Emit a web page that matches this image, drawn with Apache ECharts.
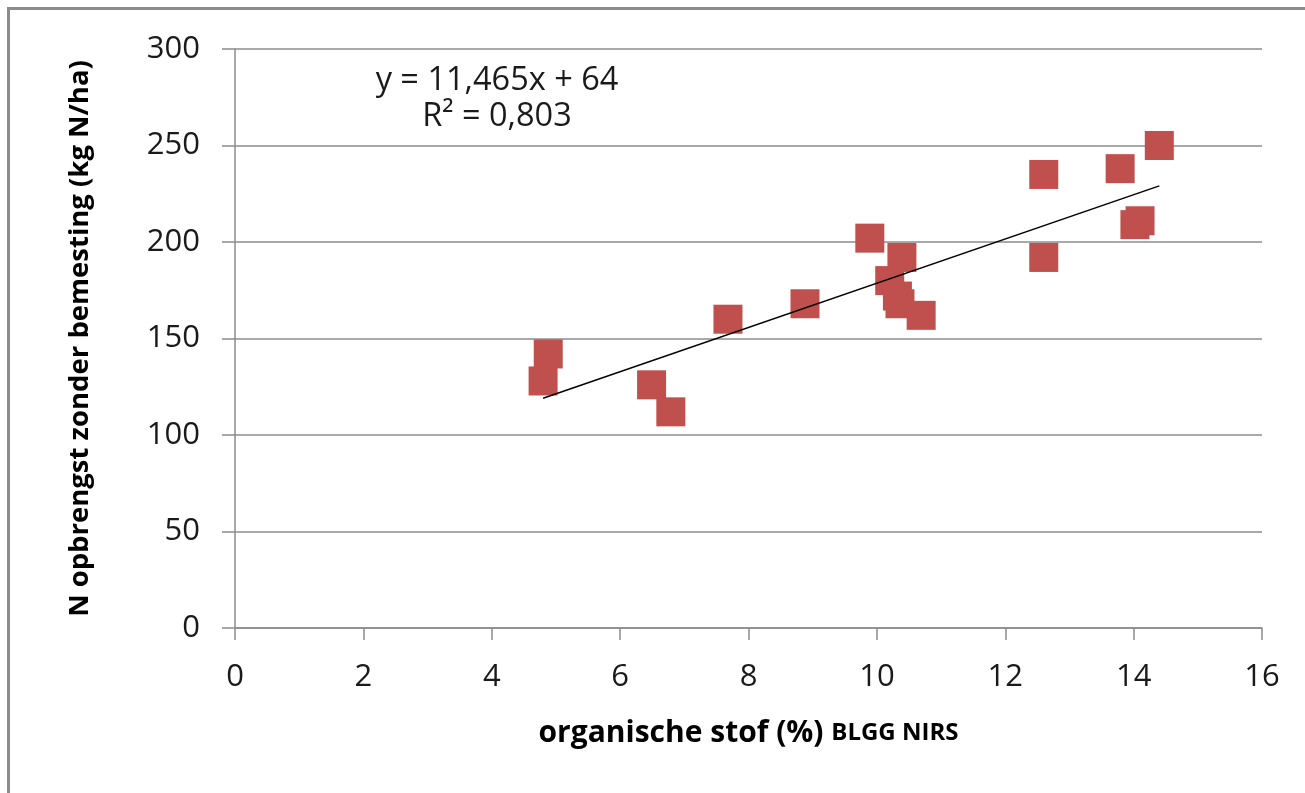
<!DOCTYPE html>
<html>
<head>
<meta charset="utf-8">
<script src="https://cdn.jsdelivr.net/npm/echarts@6/dist/echarts.min.js"></script>
<style>
html,body{margin:0;padding:0;background:#fff;}
#chart{width:1305px;height:793px;}
</style>
</head>
<body>
<div id="chart"></div>
<script>
// Data
const orgStof = [4.80, 4.88, 6.49, 6.79, 7.68, 8.88, 9.89, 10.20, 10.32, 10.36, 10.39, 10.69, 12.60, 12.60, 13.79, 14.02, 14.10, 14.40];
const nOpbrengst = [128, 142, 126, 112, 160, 168, 202, 180, 172, 168, 192, 162, 235, 192, 238, 209, 211, 250];
const trendX = [4.8, 14.4];
const trendY = [119.0, 229.1];
const xTicks = [0, 2, 4, 6, 8, 10, 12, 14, 16];
const yTicks = [0, 50, 100, 150, 200, 250, 300];
const equationText = 'y = 11,465x + 64';
const r2Text = 'R² = 0,803';

const FONT = '"Open Sans", "Liberation Sans", sans-serif';
const chart = echarts.init(document.getElementById('chart'), null, {renderer: 'canvas'});

const option = {
  backgroundColor: '#fff',
  animation: false,
  grid: {left: 235, right: 43, top: 49, bottom: 165, containLabel: false},
  xAxis: {
    type: 'value',
    min: xTicks[0], max: xTicks[xTicks.length - 1], interval: 2,
    name: '{a|organische stof (%) }{b|BLGG NIRS}',
    nameLocation: 'middle',
    nameGap: 90,
    nameTextStyle: {
      rich: {
        a: {fontFamily: FONT, fontSize: 30, fontWeight: 'bold', color: '#000'},
        b: {fontFamily: FONT, fontSize: 24, fontWeight: 'bold', color: '#000'}
      }
    },
    axisLine: {show: true, lineStyle: {color: '#8c8c8c', width: 1.5}},
    axisTick: {show: true, length: 12, lineStyle: {color: '#8c8c8c', width: 1.5}},
    axisLabel: {fontFamily: FONT, fontSize: 31, color: '#1a1a1a', margin: 34},
    splitLine: {show: false}
  },
  yAxis: {
    type: 'value',
    min: yTicks[0], max: yTicks[yTicks.length - 1], interval: 50,
    name: 'N opbrengst zonder bemesting (kg N/ha)',
    nameLocation: 'middle',
    nameGap: 141,
    nameTextStyle: {fontFamily: FONT, fontSize: 27.5, fontWeight: 'bold', color: '#000'},
    axisLine: {show: true, lineStyle: {color: '#8c8c8c', width: 1.5}},
    axisTick: {show: true, length: 13, lineStyle: {color: '#8c8c8c', width: 1.5}},
    axisLabel: {fontFamily: FONT, fontSize: 31, color: '#1a1a1a', margin: 35},
    splitLine: {show: true, lineStyle: {color: '#8c8c8c', width: 1.5}}
  },
  series: [
    {
      type: 'scatter',
      data: orgStof.map((x, i) => [x, nOpbrengst[i]]),
      symbol: 'rect',
      symbolSize: 29,
      itemStyle: {color: '#c0504d', opacity: 1},
      z: 3
    },
    {
      type: 'line',
      data: trendX.map((x, i) => [x, trendY[i]]),
      showSymbol: false,
      symbol: 'none',
      lineStyle: {color: '#000', width: 1.5},
      z: 4
    }
  ],
  graphic: [
    {
      type: 'rect',
      shape: {x: 8.5, y: 8.5, width: 1400, height: 900},
      style: {fill: 'none', stroke: '#8c8c8c', lineWidth: 3},
      silent: true
    },
    {
      type: 'text',
      x: 497, y: 81,
      style: {text: equationText, fontFamily: FONT, fontSize: 32.5, fill: '#1a1a1a', textAlign: 'center', textVerticalAlign: 'middle'}
    },
    {
      type: 'text',
      x: 497, y: 117,
      style: {text: r2Text, fontFamily: FONT, fontSize: 32.5, fill: '#1a1a1a', textAlign: 'center', textVerticalAlign: 'middle'}
    }
  ]
};
chart.setOption(option);
</script>
</body>
</html>
